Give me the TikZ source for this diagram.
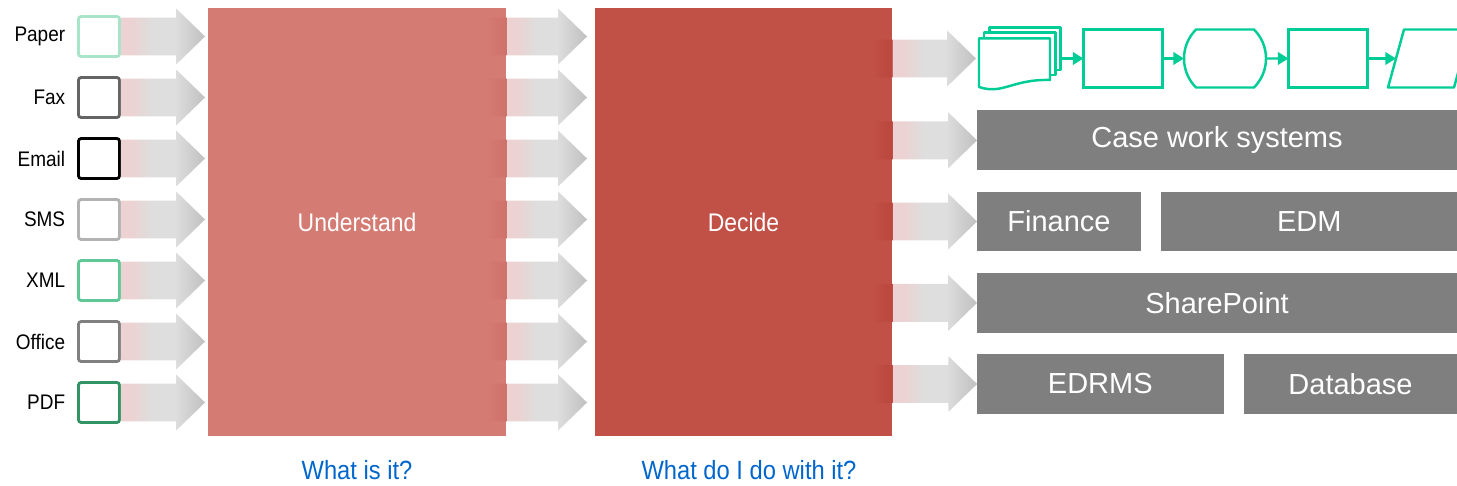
\documentclass[tikz,border=0pt]{standalone}
\usepackage{fontspec}
\setmainfont{Liberation Sans}
\newfontfamily\narrowsf{Liberation Sans}[FakeStretch=0.9]
\usepackage{xcolor}
\usepackage{tikz}
\usetikzlibrary{arrows.meta, positioning, calc, shapes.misc}

\definecolor{undred}{RGB}{212,123,115}
\definecolor{decred}{RGB}{193,80,70}
\definecolor{sysgray}{RGB}{127,127,127}
\definecolor{flowgreen}{RGB}{0,204,150}
\definecolor{qblue}{RGB}{0,102,204}
\definecolor{cpaper}{RGB}{168,228,200}
\definecolor{cfax}{RGB}{100,100,100}
\definecolor{cemail}{RGB}{0,0,0}
\definecolor{csms}{RGB}{178,178,178}
\definecolor{cxml}{RGB}{96,200,150}
\definecolor{coffice}{RGB}{128,128,128}
\definecolor{cpdf}{RGB}{50,148,100}
\definecolor{arrpink}{RGB}{236,210,210}
\definecolor{arrlight}{RGB}{222,222,222}
\definecolor{arrdark}{RGB}{192,192,192}
\definecolor{undshade}{RGB}{206,113,106}
\definecolor{decshade}{RGB}{187,71,63}

\pgfdeclarehorizontalshading{arrowplain}{100bp}{color(0bp)=(arrpink);
  color(25bp)=(arrpink); color(31bp)=(arrpink); color(44bp)=(arrlight);
  color(57bp)=(arrlight); color(75bp)=(arrdark); color(100bp)=(arrdark)}
\pgfdeclarehorizontalshading{arrowund}{100bp}{color(0bp)=(undred);
  color(25bp)=(undred); color(34.5bp)=(undshade); color(35bp)=(arrpink);
  color(40bp)=(arrpink); color(50bp)=(arrlight); color(60bp)=(arrlight);
  color(75bp)=(arrdark); color(100bp)=(arrdark)}
\pgfdeclarehorizontalshading{arrowdec}{100bp}{color(0bp)=(decred);
  color(25bp)=(decred); color(34.5bp)=(decshade); color(35bp)=(arrpink);
  color(40bp)=(arrpink); color(50bp)=(arrlight); color(60bp)=(arrlight);
  color(75bp)=(arrdark); color(100bp)=(arrdark)}

% fat arrow: shading, start point, tip point
\newcommand{\fatarrow}[3]{%
  \shade[shading=#1] let \p1=(#2), \p2=(#3) in
    (\x1,\y1+10.8pt) -- (\x2-16.4pt,\y1+10.8pt) -- (\x2-16.4pt,\y1+15.9pt)
    -- (\x2,\y1) -- (\x2-16.4pt,\y1-15.9pt) -- (\x2-16.4pt,\y1-10.8pt)
    -- (\x1,\y1-10.8pt) -- cycle;}

\begin{document}
\begin{tikzpicture}[
  x=0.02cm, y=-0.02cm,
  lbl/.style={anchor=east, inner sep=0pt,
    font=\narrowsf\fontsize{12}{14}\selectfont},
  icon/.style={draw, fill=white, line width=1.6pt, rounded corners=1.5pt,
    minimum width=0.82cm, minimum height=0.8cm, inner sep=0pt, outer sep=0pt},
  stage/.style={minimum height=8.56cm, inner sep=0pt, outer sep=0pt,
    text=white, font=\narrowsf\fontsize{14.5}{17}\selectfont},
  question/.style={text=qblue, inner sep=0pt,
    font=\narrowsf\fontsize{15}{18}\selectfont},
  sysbox/.style={fill=sysgray, text=white, minimum height=1.2cm,
    inner sep=0pt, outer sep=0pt, font=\fontsize{16.5}{19}\selectfont},
  flowbox/.style={draw=flowgreen, line width=1.4pt, fill=white,
    minimum width=1.58cm, minimum height=1.16cm, inner sep=0pt, outer sep=0pt},
  flowline/.style={draw=flowgreen, line width=1.4pt, fill=white,
    line join=round},
  flowarr/.style={draw=flowgreen, line width=1.4pt,
    -{Triangle[length=6pt,width=7pt]}},
]

\useasboundingbox (0,0) rectangle (1457,486);

%%% Stages
\node[stage, fill=undred, minimum width=5.96cm] (und) at (357,222)
  {Understand};
\node[stage, fill=decred, minimum width=5.94cm] (dec) at (743.5,222)
  {Decide};

%%% Questions below the stages
\node[question] (q1) at (357,470) {What is it?};
\node[question] (q2) at (749,470) {What do I do with it?};

%%% Input formats
\node[icon, draw=cpaper] (paper) at (99,36.5) {};
\node[lbl, left=0.26cm of paper] (lpaper) {Paper};
\node[icon, draw=cfax] (fax) at (99,97.5) {};
\node[lbl, left=0.26cm of fax] (lfax) {Fax};
\node[icon, draw=cemail] (email) at (99,158.5) {};
\node[lbl, left=0.26cm of email] (lemail) {Email};
\node[icon, draw=csms] (sms) at (99,219.5) {};
\node[lbl, left=0.26cm of sms] (lsms) {SMS};
\node[icon, draw=cxml] (xml) at (99,280.5) {};
\node[lbl, left=0.26cm of xml] (lxml) {XML};
\node[icon, draw=coffice] (office) at (99,341.5) {};
\node[lbl, left=0.26cm of office] (loffice) {Office};
\node[icon, draw=cpdf] (pdf) at (99,402.5) {};
\node[lbl, left=0.26cm of pdf] (lpdf) {PDF};

%%% Target systems
\node[sysbox, minimum width=9.6cm] (cws) at (1217,140.3)
  {Case work systems};
\node[sysbox, minimum width=3.28cm] (fin) at (1059,221.5) {Finance};
\node[sysbox, minimum width=5.91cm, right=0.41cm of fin] (edm) {EDM};
\node[sysbox, minimum width=9.6cm] (shp) at (1217,302.9) {SharePoint};
\node[sysbox, minimum width=4.93cm] (edrms) at (1100.3,384) {EDRMS};
\node[sysbox, minimum width=4.26cm, right=0.41cm of edrms] (db)
  {Database};

%%% Process flow (top row)
\draw[flowline] (989.3,27.3) rectangle (1060.7,70);
\draw[flowline] (984,32.7) rectangle (1055.7,75);
\draw[flowline] (979,38.3) -- (1050,38.3) -- (1050,80)
  .. controls (1012,79) and (1003,95) .. (979,87) -- cycle;
\coordinate (docL) at (979,58.5);
\coordinate (docR) at (1060.7,58.5);
\node[flowbox] (fc1) at (1123,58.5) {};
\node[flowbox, rounded rectangle, rounded rectangle arc length=90]
  (fc2) at (1225,58.5) {};
\node[flowbox] (fc3) at (1328,58.5) {};
\draw[flowline] (1388,87.5) -- (1404,29.5) -- (1470,29.5) -- (1454,87.5)
  -- cycle;
\coordinate (fc4) at (1396,58.5);

\draw[flowarr] (docR) -- (fc1);
\draw[flowarr] (fc1) -- (fc2);
\draw[flowarr] (fc2) -- (fc3);
\draw[flowarr] (fc3) -- (fc4);

%%% Arrows: formats -> Understand
\fatarrow{arrowplain}{[xshift=0.03cm]paper.east}{$(und.west |- paper)+(-3,0)$}
\fatarrow{arrowplain}{[xshift=0.03cm]fax.east}{$(und.west |- fax)+(-3,0)$}
\fatarrow{arrowplain}{[xshift=0.03cm]email.east}{$(und.west |- email)+(-3,0)$}
\fatarrow{arrowplain}{[xshift=0.03cm]sms.east}{$(und.west |- sms)+(-3,0)$}
\fatarrow{arrowplain}{[xshift=0.03cm]xml.east}{$(und.west |- xml)+(-3,0)$}
\fatarrow{arrowplain}{[xshift=0.03cm]office.east}{$(und.west |- office)+(-3,0)$}
\fatarrow{arrowplain}{[xshift=0.03cm]pdf.east}{$(und.west |- pdf)+(-3,0)$}

%%% Arrows: Understand -> Decide
\fatarrow{arrowund}{$(und.east |- paper)+(-19,0)$}{$(dec.west |- paper)+(-8,0)$}
\fatarrow{arrowund}{$(und.east |- fax)+(-19,0)$}{$(dec.west |- fax)+(-8,0)$}
\fatarrow{arrowund}{$(und.east |- email)+(-19,0)$}{$(dec.west |- email)+(-8,0)$}
\fatarrow{arrowund}{$(und.east |- sms)+(-19,0)$}{$(dec.west |- sms)+(-8,0)$}
\fatarrow{arrowund}{$(und.east |- xml)+(-19,0)$}{$(dec.west |- xml)+(-8,0)$}
\fatarrow{arrowund}{$(und.east |- office)+(-19,0)$}{$(dec.west |- office)+(-8,0)$}
\fatarrow{arrowund}{$(und.east |- pdf)+(-19,0)$}{$(dec.west |- pdf)+(-8,0)$}

%%% Arrows: Decide -> systems
\fatarrow{arrowdec}{$(dec.east |- docL)+(-20,0)$}{$(docL)+(-3,0)$}
\fatarrow{arrowdec}{$(dec.east |- cws)+(-20,0)$}{cws.west}
\fatarrow{arrowdec}{$(dec.east |- fin)+(-20,0)$}{fin.west}
\fatarrow{arrowdec}{$(dec.east |- shp)+(-20,0)$}{shp.west}
\fatarrow{arrowdec}{$(dec.east |- edrms)+(-20,0)$}{edrms.west}

\end{tikzpicture}
\end{document}
